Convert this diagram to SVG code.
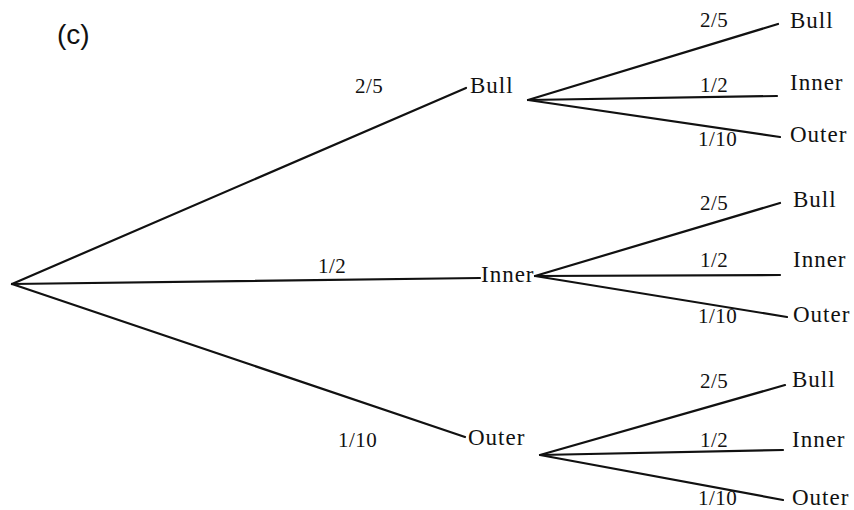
<svg xmlns="http://www.w3.org/2000/svg" width="854" height="510" viewBox="0 0 854 510">
<style>
.e{stroke:#111;stroke-width:2.2;fill:none;stroke-linecap:round}
.t{font-family:"Liberation Serif",serif;font-size:23px;fill:#111;letter-spacing:1px}
.p{font-family:"Liberation Serif",serif;font-size:21px;fill:#111;letter-spacing:0.5px}
.h{font-family:"Liberation Sans",sans-serif;font-size:28px;fill:#111}
</style>
<rect width="854" height="510" fill="#fff"/>
<text class="h" x="57" y="44">(c)</text>
<g id="connectors">
<line class="e" x1="12" y1="284" x2="466" y2="88"/>
<line class="e" x1="12" y1="284" x2="480" y2="278"/>
<line class="e" x1="12" y1="284" x2="465" y2="437"/>
<line class="e" x1="528" y1="100" x2="778" y2="24"/>
<line class="e" x1="528" y1="100" x2="777" y2="96"/>
<line class="e" x1="528" y1="100" x2="780" y2="137"/>
<line class="e" x1="535" y1="276" x2="780" y2="203"/>
<line class="e" x1="535" y1="276" x2="780" y2="275"/>
<line class="e" x1="535" y1="276" x2="787" y2="317"/>
<line class="e" x1="540" y1="455" x2="785" y2="385"/>
<line class="e" x1="540" y1="455" x2="783" y2="450"/>
<line class="e" x1="540" y1="455" x2="783" y2="500"/>
<text class="p" x="355" y="93">2/5</text>
<text class="p" x="318" y="273">1/2</text>
<text class="p" x="338" y="447">1/10</text>
<text class="p" x="700" y="27">2/5</text>
<text class="p" x="700" y="92">1/2</text>
<text class="p" x="698" y="146">1/10</text>
<text class="p" x="700" y="210">2/5</text>
<text class="p" x="700" y="267">1/2</text>
<text class="p" x="698" y="323">1/10</text>
<text class="p" x="700" y="388">2/5</text>
<text class="p" x="700" y="447">1/2</text>
<text class="p" x="698" y="505">1/10</text>
</g>
<g id="n-bull"><text class="t" x="470" y="93">Bull</text></g>
<g id="n-inner"><text class="t" x="481" y="282">Inner</text></g>
<g id="n-outer"><text class="t" x="468" y="445">Outer</text></g>
<g id="n-bull-bull"><text class="t" x="790" y="28">Bull</text></g>
<g id="n-bull-inner"><text class="t" x="790" y="90">Inner</text></g>
<g id="n-bull-outer"><text class="t" x="790" y="142">Outer</text></g>
<g id="n-inner-bull"><text class="t" x="793" y="207">Bull</text></g>
<g id="n-inner-inner"><text class="t" x="793" y="267">Inner</text></g>
<g id="n-inner-outer"><text class="t" x="793" y="322">Outer</text></g>
<g id="n-outer-bull"><text class="t" x="792" y="387">Bull</text></g>
<g id="n-outer-inner"><text class="t" x="792" y="447">Inner</text></g>
<g id="n-outer-outer"><text class="t" x="792" y="505">Outer</text></g>
</svg>
